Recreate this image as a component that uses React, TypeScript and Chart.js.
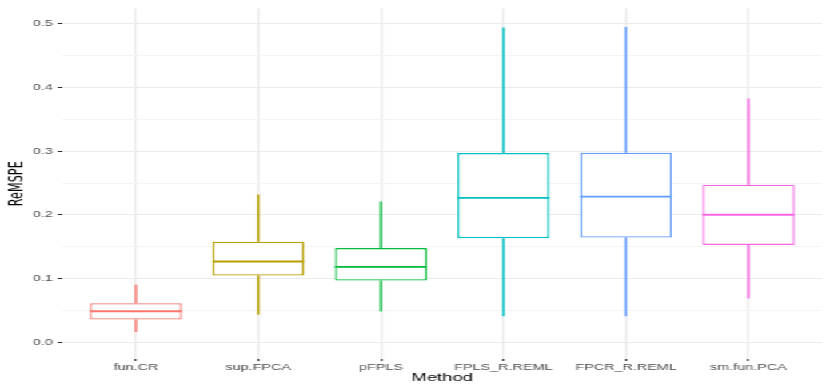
import React, { useEffect, useRef } from 'react';
import { Chart, registerables } from 'chart.js';

Chart.register(...registerables);

// ---- data ----
const methods = ['fun.CR', 'sup.FPCA', 'pFPLS', 'FPLS_R.REML', 'FPCR_R.REML', 'sm.fun.PCA'];
const whiskerLow = [0.0165, 0.0435, 0.0486, 0.041, 0.041, 0.0688];
const q1 = [0.036, 0.105, 0.097, 0.1636, 0.1646, 0.153];
const median = [0.049, 0.127, 0.1185, 0.2267, 0.2287, 0.2003];
const q3 = [0.0615, 0.158, 0.148, 0.297, 0.2975, 0.2474];
const whiskerHigh = [0.0905, 0.232, 0.221, 0.494, 0.495, 0.3825];
const colors = ['#F8766D', '#B79F00', '#00BA38', '#00BFC4', '#619CFF', '#F564E3'];
const yTickValues = [0, 0.05, 0.1, 0.15, 0.2, 0.25, 0.3, 0.35, 0.4, 0.45, 0.5];
const yMajorTicks = [0, 0.1, 0.2, 0.3, 0.4, 0.5];

// ---- layout ----
const INNER_W = 519;
const H = 388;
const STRETCH = 830 / INNER_W;

const isMajor = (v: number) => yMajorTicks.some((m) => Math.abs(m - v) < 1e-6);

const medianPlugin = {
  id: 'medianLines',
  afterDatasetsDraw(chart: any) {
    const meta = chart.getDatasetMeta(2);
    const yScale = chart.scales.y;
    const ctx = chart.ctx;
    ctx.save();
    meta.data.forEach((bar: any, i: number) => {
      const { x, width } = bar.getProps(['x', 'width'], true);
      const y = yScale.getPixelForValue(median[i]);
      ctx.strokeStyle = colors[i];
      ctx.lineWidth = 1.9;
      ctx.beginPath();
      ctx.moveTo(x - width / 2, y);
      ctx.lineTo(x + width / 2, y);
      ctx.stroke();
    });
    ctx.restore();
  },
};

export default function App() {
  const ref = useRef<HTMLCanvasElement | null>(null);

  useEffect(() => {
    if (!ref.current) return;
    const whiskerBase = {
      backgroundColor: colors,
      borderWidth: 0,
      grouped: false,
      maxBarThickness: 1.4,
      inflateAmount: 0,
      barPercentage: 1,
      categoryPercentage: 1,
    };
    const chart = new Chart(ref.current, {
      type: 'bar',
      data: {
        datasets: [
          {
            label: 'lower whisker',
            data: methods.map((_, i) => ({ x: i + 1, y: [whiskerLow[i], q1[i]] })) as any,
            ...whiskerBase,
          },
          {
            label: 'upper whisker',
            data: methods.map((_, i) => ({ x: i + 1, y: [q3[i], whiskerHigh[i]] })) as any,
            ...whiskerBase,
          },
          {
            label: 'box',
            data: methods.map((_, i) => ({ x: i + 1, y: [q1[i], q3[i]] })) as any,
            backgroundColor: '#FFFFFF',
            borderColor: colors,
            borderWidth: 1.3,
            borderSkipped: false,
            inflateAmount: 0,
            grouped: false,
            barPercentage: 0.75,
            categoryPercentage: 1,
          },
        ] as any,
      },
      options: {
        animation: false,
        responsive: false,
        devicePixelRatio: 1,
        layout: { padding: { top: 5, right: 5, left: 0, bottom: 0 } },
        plugins: {
          legend: { display: false },
          tooltip: { enabled: false },
        },
        scales: {
          x: {
            type: 'linear',
            min: 0.4,
            max: 6.6,
            offset: false,
            afterBuildTicks: (scale: any) => {
              scale.ticks = methods.map((_, i) => ({ value: i + 1 }));
            },
            afterFit: (scale: any) => {
              scale.height = 29;
            },
            ticks: {
              autoSkip: false,
              maxRotation: 0,
              padding: 1,
              color: '#4D4D4D',
              font: { family: "'Liberation Sans', Arial, sans-serif", size: 9 },
              callback: (v: any) => methods[Math.round(Number(v)) - 1] ?? '',
            },
            grid: {
              offset: false,
              color: '#EBEBEB',
              lineWidth: 1.3,
              tickColor: '#333333',
              tickLength: 2,
              tickWidth: 1.2,
            },
            border: { display: false },
            title: {
              display: true,
              text: 'Method',
              color: '#000000',
              font: { family: "'Liberation Sans', Arial, sans-serif", size: 11.5 },
              padding: { top: 0, bottom: 3 },
            },
          },
          y: {
            type: 'linear',
            min: -0.026,
            max: 0.524,
            afterBuildTicks: (scale: any) => {
              scale.ticks = yTickValues.map((v) => ({ value: v }));
            },
            afterFit: (scale: any) => {
              scale.width = 39;
            },
            ticks: {
              padding: 3,
              color: '#4D4D4D',
              font: { family: "'Liberation Sans', Arial, sans-serif", size: 9 },
              callback: (v: any) => (isMajor(Number(v)) ? Number(v).toFixed(1) : ''),
            },
            grid: {
              color: (c: any) => (isMajor(c.tick?.value ?? 0) ? '#EBEBEB' : '#F4F4F4'),
              lineWidth: 1,
              tickColor: (c: any) => (isMajor(c.tick?.value ?? 0) ? '#333333' : 'rgba(0,0,0,0)'),
              tickLength: 3,
              tickWidth: 1,
            },
            border: { display: false },
            title: {
              display: true,
              text: 'ReMSPE',
              color: '#000000',
              font: { family: "'Liberation Sans Narrow', 'DejaVu Sans Condensed', 'Liberation Sans', sans-serif", size: 12.5 },
              padding: { top: 3, bottom: 0 },
            },
          },
        },
      } as any,
      plugins: [medianPlugin],
    });
    return () => chart.destroy();
  }, []);

  return (
    <div
      style={{
        position: 'fixed',
        left: 0,
        top: 0,
        width: INNER_W,
        height: H,
        transform: `scaleX(${STRETCH})`,
        transformOrigin: '0 0',
        background: '#FFFFFF',
      }}
    >
      <canvas ref={ref} width={INNER_W} height={H} style={{ width: `${INNER_W}px`, height: `${H}px`, display: 'block' }} />
    </div>
  );
}
